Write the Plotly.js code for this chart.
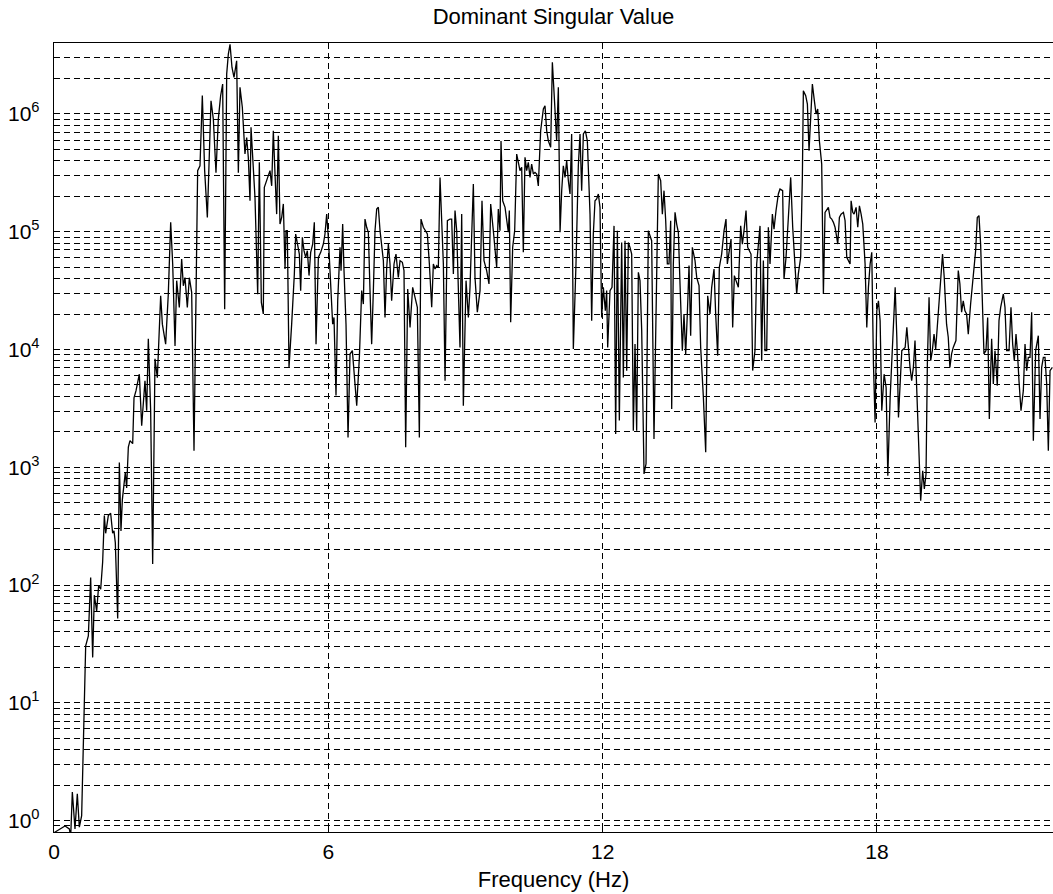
<!DOCTYPE html>
<html>
<head>
<meta charset="utf-8">
<script src="https://cdn.plot.ly/plotly-3.0.1.min.js"></script>
<style>html,body{margin:0;padding:0;background:#fff;}#chart{width:1053px;height:894px;}</style>
</head>
<body>
<div id="chart"></div>
<script>
// Frequency (Hz) of each sample
var frequencyHz = [
0, 0.241, 0.335, 0.365, 0.401, 0.459, 0.51, 0.554, 0.605, 0.693, 0.751, 0.802, 0.846, 0.882, 0.933, 0.977, 1.021, 1.064, 1.101, 1.13, 1.188, 1.239, 1.283, 1.312, 1.341, 1.393, 1.429, 1.465, 1.495, 1.531, 1.56, 1.589, 1.604, 1.626,
1.662, 1.721, 1.75, 1.794, 1.866, 1.918, 1.99, 2.027, 2.063, 2.114, 2.158, 2.209, 2.26, 2.282, 2.333, 2.37, 2.442, 2.5, 2.552, 2.596, 2.647, 2.683, 2.741, 2.792, 2.829, 2.865, 2.916, 2.96, 3.011, 3.062, 3.106, 3.142, 3.193, 3.244, 3.295, 3.354, 3.434, 3.485, 3.543, 3.594, 3.645, 3.689, 3.733, 3.777, 3.813, 3.85, 3.893, 3.937, 3.995, 4.032, 4.068, 4.119, 4.177, 4.214, 4.25, 4.287, 4.309, 4.345, 4.396, 4.455, 4.491, 4.535, 4.578, 4.6, 4.666, 4.724,
4.761, 4.797, 4.834, 4.87, 4.907, 4.943, 4.98, 5.016, 5.053, 5.075, 5.103, 5.14, 5.198, 5.257, 5.286, 5.322, 5.366, 5.395, 5.432, 5.468, 5.505, 5.541, 5.578, 5.614, 5.658, 5.694, 5.731, 5.782, 5.833, 5.891, 5.927, 5.964, 6.0, 6.051, 6.095, 6.124, 6.168, 6.205, 6.256, 6.278, 6.314, 6.343, 6.387, 6.431, 6.475, 6.526, 6.57, 6.621, 6.679, 6.729, 6.766, 6.802, 6.839, 6.875, 6.912, 6.948, 6.985, 7.021, 7.058, 7.094, 7.131, 7.204, 7.24, 7.277, 7.313,
7.349, 7.385, 7.437, 7.48, 7.531, 7.568, 7.619, 7.655, 7.692, 7.736, 7.787, 7.845, 7.896, 7.947, 7.991, 8.027, 8.078, 8.166, 8.21, 8.261, 8.297, 8.334, 8.37, 8.406, 8.443, 8.479, 8.516, 8.553, 8.604, 8.662, 8.698, 8.735, 8.771, 8.808, 8.844, 8.88, 8.917, 8.953, 9.012, 9.063, 9.099, 9.136, 9.172, 9.208, 9.259, 9.318, 9.361, 9.405, 9.463, 9.514, 9.551, 9.609, 9.682, 9.718, 9.755, 9.777, 9.814, 9.865, 9.9, 9.937, 9.959, 9.988, 10.032, 10.076, 10.12, 10.17,
10.192, 10.229, 10.265, 10.302, 10.338, 10.374, 10.411, 10.447, 10.484, 10.52, 10.557, 10.593, 10.644, 10.703, 10.739, 10.776, 10.812, 10.863, 10.9, 10.943, 10.994, 11.031, 11.068, 11.104, 11.14, 11.177, 11.213, 11.25, 11.286, 11.322, 11.359, 11.417, 11.468, 11.505, 11.541, 11.578, 11.622, 11.665, 11.724, 11.76, 11.796, 11.833, 11.869, 11.906, 11.942, 11.979, 12.015, 12.059, 12.088, 12.11, 12.161, 12.205, 12.249, 12.285, 12.322, 12.365, 12.416, 12.453, 12.489, 12.526, 12.562, 12.598, 12.635, 12.671, 12.708, 12.744, 12.781, 12.817, 12.854, 12.905, 12.949, 12.999,
13.072, 13.123, 13.167, 13.218, 13.269, 13.306, 13.342, 13.379, 13.415, 13.451, 13.488, 13.51, 13.546, 13.583, 13.619, 13.656, 13.692, 13.743, 13.779, 13.816, 13.852, 13.889, 13.925, 13.962, 14.02, 14.057, 14.108, 14.144, 14.203, 14.254, 14.297, 14.348, 14.385, 14.436, 14.472, 14.516, 14.552, 14.603, 14.655, 14.698, 14.727, 14.771, 14.808, 14.844, 14.881, 14.917, 14.968, 15.019, 15.056, 15.092, 15.136, 15.172, 15.209, 15.245, 15.281, 15.332, 15.369, 15.405, 15.442, 15.478, 15.515, 15.551, 15.588, 15.624, 15.661, 15.712, 15.748, 15.792, 15.843,
15.879, 15.937, 15.967, 16.011, 16.062, 16.113, 16.157, 16.2, 16.244, 16.28, 16.331, 16.368, 16.39, 16.441, 16.478, 16.514, 16.551, 16.587, 16.631, 16.667, 16.704, 16.74, 16.791, 16.828, 16.864, 16.901, 16.937, 16.974, 17.01, 17.047, 17.083, 17.12, 17.142, 17.178, 17.215, 17.266, 17.302, 17.339, 17.375, 17.412, 17.434, 17.47, 17.499, 17.543, 17.58, 17.616, 17.653, 17.689, 17.74, 17.777, 17.813, 17.85, 17.886, 17.923, 17.959, 17.996, 18.032, 18.069, 18.105, 18.156, 18.2, 18.237, 18.288, 18.361, 18.398, 18.434, 18.47, 18.543, 18.616, 18.653, 18.689,
18.723, 18.759, 18.796, 18.832, 18.869, 18.905, 18.956, 19.0, 19.036, 19.073, 19.102, 19.139, 19.175, 19.211, 19.248, 19.284, 19.34, 19.39, 19.434, 19.471, 19.522, 19.559, 19.595, 19.632, 19.668, 19.727, 19.778, 19.814, 19.851, 19.887, 19.924, 19.96, 19.997, 20.048, 20.106, 20.158, 20.194, 20.231, 20.267, 20.311, 20.34, 20.384, 20.421, 20.457, 20.508, 20.545, 20.581, 20.632, 20.669, 20.705, 20.764, 20.8, 20.836, 20.888, 20.931, 20.968, 21.004, 21.041, 21.07, 21.106, 21.15, 21.201, 21.238, 21.274, 21.31, 21.347, 21.383, 21.42, 21.471, 21.529, 21.566, 21.602, 21.639, 21.675, 21.712, 21.748, 21.785, 21.836
];

// Dominant singular value at each frequency
var singularValue = [
0.79, 0.9, 0.85, 0.73, 1.75, 0.85, 1.69, 0.88, 1.1, 30.5, 36.9, 116, 24.3, 82, 60, 99, 92, 157, 389, 275, 389, 407, 275, 288, 229, 52, 1096, 288, 531, 776, 906, 667, 1054, 1486,
1683, 1585, 3890, 4470, 6170, 2254, 5430, 3020, 12300, 3020, 151, 8320, 5750, 9770, 28600, 16400, 11100, 29500, 120000, 53200, 10700, 38400, 22700, 58600, 34700, 40700, 22700, 40700, 30500, 1380, 53200, 330000, 363000, 1430000, 330000, 132000, 1290000, 904000, 316000, 904000, 1430000, 1790000, 22000, 2180000, 3220000, 3900000, 2480000, 2040000, 2820000, 316000, 1680000, 1140000, 457000, 631000, 427000, 183000, 769000, 427000, 195000, 29500, 389000, 25100, 20000, 238000, 280000, 330000,
245000, 719000, 309000, 141000, 653000, 116000, 132000, 172000, 48200, 102000, 102000, 7050, 16400, 43700, 95500, 78500, 64600, 31600, 89500, 69000, 60500, 69000, 42400, 66800, 78500, 120000, 11100, 60500, 66800, 78500, 95500, 141000, 89500, 36000, 16400, 18700, 4060, 25900, 73600, 46700, 116000, 46700, 16400, 1790, 9140, 9770, 5430, 3330, 8570, 31600, 24300, 128000, 109000, 98900, 31600, 11100, 31600, 102000, 156000, 161000, 102000, 56800, 18700, 49800, 78500,
53200, 25900, 53200, 64600, 40900, 56800, 55000, 46700, 1480, 32600, 15400, 33700, 27700, 22800, 1790, 128000, 109000, 95500, 53200, 22800, 53200, 48200, 51500, 49800, 289000, 102000, 53200, 5430, 124000, 128000, 128000, 43800, 151000, 102000, 36000, 10400, 141000, 3330, 38400, 18700, 33700, 102000, 254000, 40900, 20700, 31600, 183000, 56800, 46700, 36000, 172000, 102000, 49800, 156000, 102000, 590000, 183000, 161000, 120000, 98900, 151000, 17000, 73800, 102000, 456000, 375000,
330000, 352000, 66800, 428000, 330000, 388000, 289000, 375000, 309000, 319000, 309000, 245000, 719000, 1100000, 1170000, 719000, 592000, 520000, 2740000, 1380000, 592000, 1680000, 98900, 223000, 363000, 289000, 401000, 271000, 209000, 675000, 10100, 53200, 363000, 675000, 223000, 675000, 719000, 592000, 141000, 17500, 95500, 183000, 190000, 209000, 161000, 18700, 33700, 21300, 31600, 10400, 31600, 33700, 112000, 1920, 102000, 2490, 81100, 5790, 83900, 6610, 81100, 73600, 64600, 2040, 11100, 2040, 45200, 38400, 14500, 877, 1070, 102000,
83900, 1740, 22800, 309000, 271000, 141000, 223000, 124000, 53200, 53200, 124000, 3120, 53200, 146000, 116000, 98900, 36000, 9770, 20000, 9160, 20000, 51500, 13100, 73600, 56800, 40900, 34800, 10400, 3930, 1340, 28600, 20000, 33700, 48200, 20000, 8870, 49800, 64600, 102000, 128000, 53200, 73600, 86700, 15400, 42400, 38400, 33700, 112000, 78500, 102000, 151000, 73600, 69000, 64600, 6620, 9770, 53200, 78500, 112000, 8040, 56800, 9770, 9770, 109000, 53200, 141000, 105000, 151000, 209000,
230000, 223000, 39700, 60700, 132000, 289000, 109000, 53200, 29600, 43800, 60700, 289000, 1570000, 1430000, 1210000, 486000, 1060000, 1790000, 1290000, 998000, 1100000, 592000, 375000, 29600, 146000, 156000, 161000, 132000, 128000, 120000, 109000, 89500, 78500, 132000, 141000, 146000, 124000, 60700, 56800, 53200, 183000, 146000, 141000, 161000, 109000, 166000, 141000, 116000, 53200, 15400, 33700, 53200, 66800, 7520, 2400, 21300, 25900, 17500, 3020, 6170, 4760, 849, 3920, 17500, 33700, 12700, 2650, 9770, 10400, 15400, 9160,
7050, 5430, 7050, 11900, 4760, 2040, 520, 935, 653, 877, 7530, 27700, 8040, 9770, 13500, 10100, 20000, 31600, 64600, 40900, 16400, 12700, 7050, 9160, 10400, 11900, 46700, 36000, 20700, 25900, 21300, 20000, 13500, 24300, 40900, 69000, 132000, 137000, 78500, 22800, 9160, 9770, 18700, 2570, 12300, 5090, 9770, 4930, 17600, 22800, 29600, 22800, 9770, 9770, 22800, 11100, 8040, 13500, 9770, 5430, 3020, 4470, 11100, 6610, 8570, 8570, 20700, 1680, 9770, 13100, 2570, 7050, 8570, 8570, 5090, 1380, 6610, 7050
];

// Axis ticks and labels
var xTickValues = [0, 6, 12, 18];
var xTickLabels = ['0', '6', '12', '18'];
var yTickValues = [1, 10, 100, 1000, 10000, 100000, 1000000];
var yTickLabels = ['10<sup>0</sup>', '10<sup>1</sup>', '10<sup>2</sup>', '10<sup>3</sup>', '10<sup>4</sup>', '10<sup>5</sup>', '10<sup>6</sup>'];

var fontFamily = 'Arial, "Liberation Sans", Helvetica, sans-serif';

var trace = {
  x: frequencyHz,
  y: singularValue,
  type: 'scatter',
  mode: 'lines',
  line: {color: '#000000', width: 1.3},
  hoverinfo: 'x+y'
};

var layout = {
  width: 1053,
  height: 894,
  margin: {l: 54, r: 0, t: 43, b: 62, pad: 0},
  paper_bgcolor: '#ffffff',
  plot_bgcolor: '#ffffff',
  showlegend: false,
  font: {family: fontFamily, size: 21, color: '#000000'},
  title: {
    text: 'Dominant Singular Value',
    font: {family: fontFamily, size: 22, color: '#000000'},
    xref: 'paper', x: 0.5, xanchor: 'center',
    yref: 'container', y: 1 - 16 / 894, yanchor: 'middle'
  },
  xaxis: {
    range: [0, 21.85],
    tickmode: 'array',
    tickvals: xTickValues,
    ticktext: xTickLabels,
    ticks: 'inside', ticklen: 6, tickcolor: '#000000', tickwidth: 1,
    showline: true, linecolor: '#000000', linewidth: 1.3, mirror: true,
    showgrid: true, gridcolor: '#000000', gridwidth: 1, griddash: '6px,4px',
    zeroline: false,
    tickfont: {family: fontFamily, size: 21, color: '#000000'},
    title: {text: 'Frequency (Hz)', font: {family: fontFamily, size: 22, color: '#000000'}, standoff: 10},
    automargin: false
  },
  yaxis: {
    type: 'log',
    range: [Math.log10(0.8), Math.log10(4e6)],
    tickmode: 'array',
    tickvals: yTickValues,
    ticktext: yTickLabels,
    ticks: 'inside', ticklen: 6, tickcolor: '#000000', tickwidth: 1,
    ticklabelstandoff: 9,
    showline: true, linecolor: '#000000', linewidth: 1.3, mirror: false,
    showgrid: true, gridcolor: '#000000', gridwidth: 1, griddash: '6px,4px',
    zeroline: false,
    tickfont: {family: fontFamily, size: 21, color: '#000000'},
    minor: {
      tickmode: 'linear', dtick: 'D1',
      showgrid: true, gridcolor: '#000000', gridwidth: 1, griddash: '6px,4px',
      ticks: ''
    },
    automargin: false
  }
};

Plotly.newPlot('chart', [trace], layout, {displayModeBar: false, staticPlot: true});
</script>
</body>
</html>
